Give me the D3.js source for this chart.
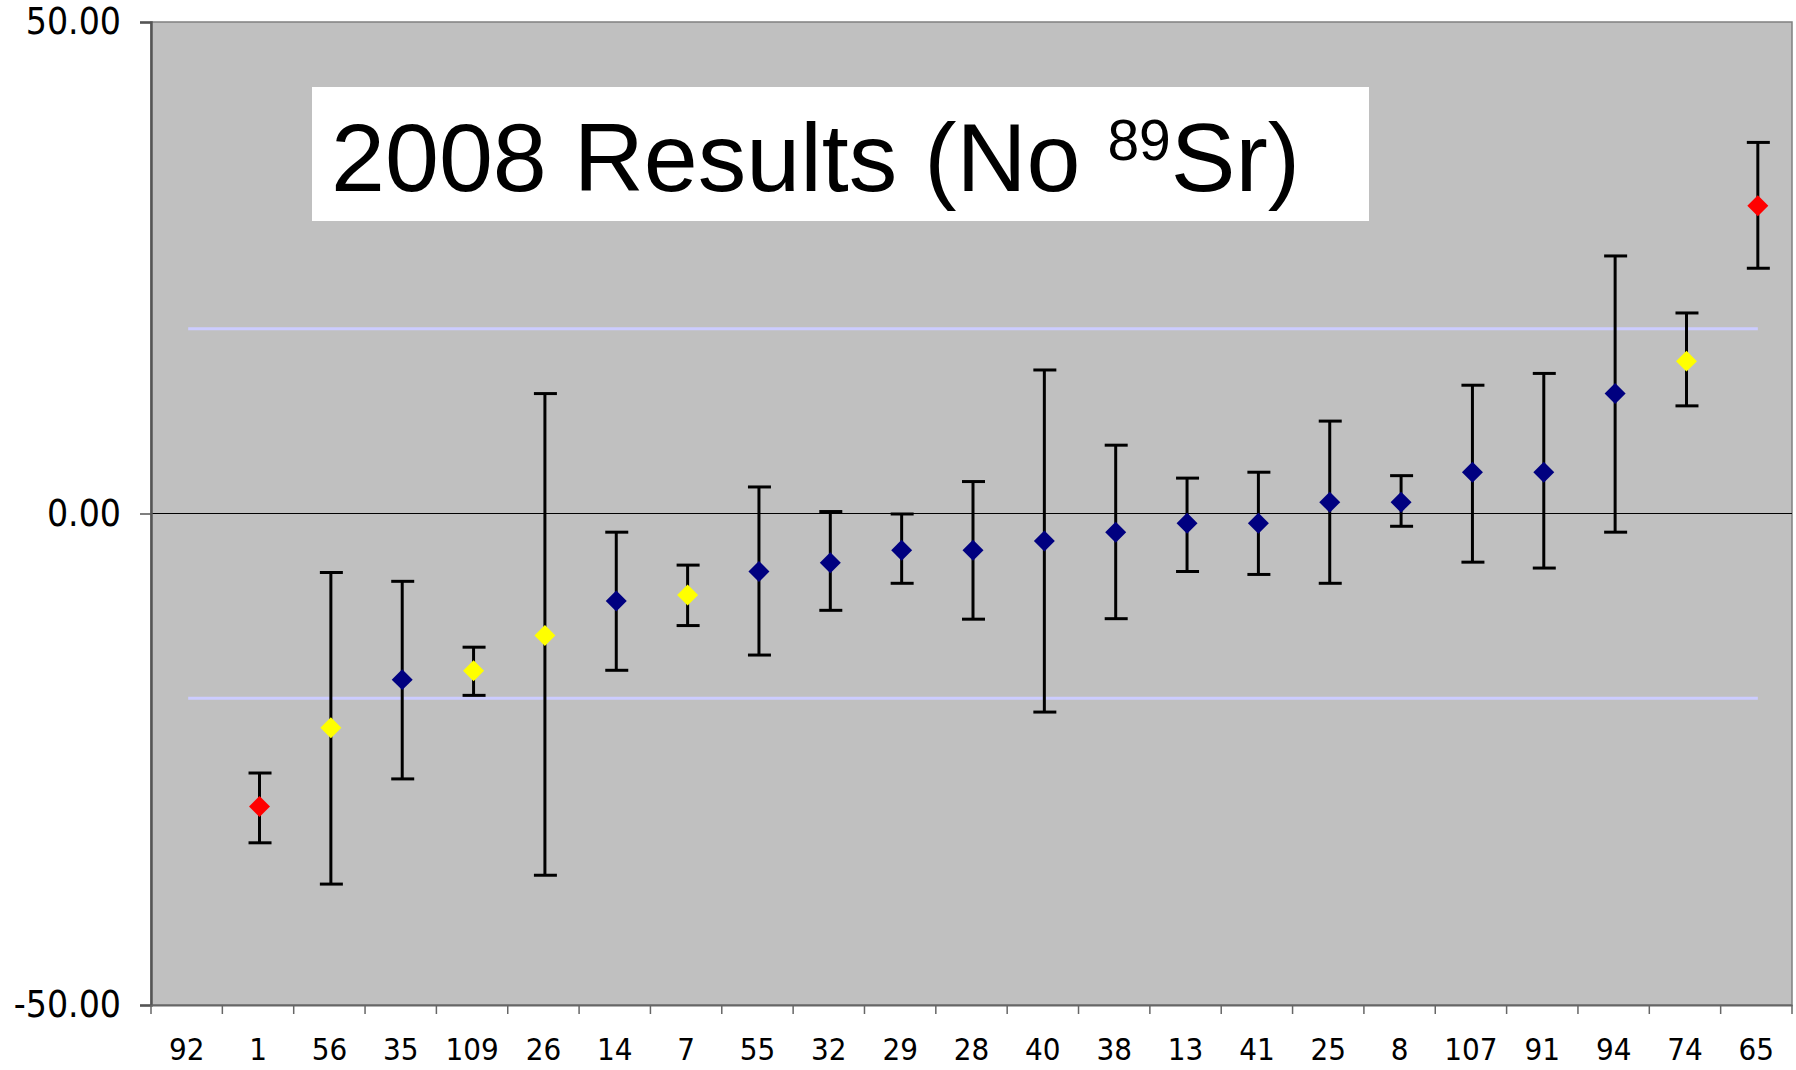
<!DOCTYPE html>
<html>
<head>
<meta charset="utf-8">
<script src="https://cdn.jsdelivr.net/npm/d3@7"></script>
<style>
  html, body { margin: 0; padding: 0; background: #ffffff; }
  svg { display: block; }
</style>
</head>
<body>
<svg id="chart" width="1796" height="1070"></svg>
<script>
// ---- data ----
const categories = ["92","1","56","35","109","26","14","7","55","32","29","28","40","38","13","41","25","8","107","91","94","74","65"];
const values     = [null,-29.8,-21.8,-16.9,-16.0,-12.4,-8.9,-8.3,-5.9,-5.0,-3.75,-3.75,-2.8,-1.9,-1.0,-1.0,1.15,1.15,4.2,4.2,12.2,15.5,31.3];
const errLow     = [null,-33.5,-37.7,-27.0,-18.5,-36.8,-15.95,-11.4,-14.4,-9.85,-7.1,-10.75,-20.2,-10.7,-5.9,-6.2,-7.1,-1.3,-4.95,-5.55,-1.9,10.95,24.95];
const errHigh    = [null,-26.4,-6.0,-6.9,-13.6,12.2,-1.9,-5.25,2.7,0.2,-0.05,3.25,14.6,6.95,3.6,4.2,9.4,3.85,13.05,14.25,26.2,20.4,37.75];
const status     = [null,"fail","warn","pass","warn","warn","pass","warn","pass","pass","pass","pass","pass","pass","pass","pass","pass","pass","pass","pass","pass","warn","fail"];
const limitHigh  = 18.8;
const limitLow   = -18.8;
const yTicks     = [-50, 0, 50];

// ---- layout ----
const svg = d3.select("#chart");
const plot = { left: 151, right: 1792, top: 22, bottom: 1005 };
const statusColor = { fail: "#ff0000", warn: "#ffff00", pass: "#000080" };

const x = d3.scaleBand().domain(categories).range([plot.left, plot.right]).paddingInner(0).paddingOuter(0);
const y = d3.scaleLinear().domain([-50, 50]).range([plot.bottom, plot.top]);
const cx = c => x(c) + x.bandwidth() / 2 + 1.5;

// plot background
svg.append("rect")
  .attr("x", plot.left).attr("y", plot.top)
  .attr("width", plot.right - plot.left).attr("height", plot.bottom - plot.top)
  .attr("fill", "#c0c0c0")
  .attr("stroke", "#808080").attr("stroke-width", 1.5);

// zero line
svg.append("line")
  .attr("x1", plot.left).attr("x2", plot.right)
  .attr("y1", y(0)).attr("y2", y(0))
  .attr("stroke", "#000").attr("stroke-width", 1.2);

// limit lines
[limitHigh, limitLow].forEach(v => {
  svg.append("line")
    .attr("x1", cx(categories[0])).attr("x2", cx(categories[categories.length - 1]))
    .attr("y1", y(v)).attr("y2", y(v))
    .attr("stroke", "#ccccff").attr("stroke-width", 3);
});

// title box
const tb = svg.append("g");
tb.append("rect")
  .attr("x", 312).attr("y", 87).attr("width", 1057).attr("height", 134)
  .attr("fill", "#ffffff");
const title = tb.append("text")
  .attr("x", 331).attr("y", 191)
  .attr("font-family", "'Liberation Sans', Arial, Helvetica, sans-serif")
  .attr("font-size", 97)
  .attr("fill", "#000");
title.append("tspan").text("2008 Results (No ");
title.append("tspan").attr("font-size", 57).attr("dy", -31).text("89");
title.append("tspan").attr("dy", 31).text("Sr)");

// y axis
const yAxis = svg.append("g")
  .attr("transform", `translate(${plot.left},0)`)
  .call(d3.axisLeft(y).tickValues(yTicks).tickFormat(d => d.toFixed(2)).tickSize(11).tickPadding(19));
yAxis.select(".domain").attr("stroke", "#555").attr("stroke-width", 2.5);
yAxis.selectAll(".tick line").attr("stroke", "#555").attr("stroke-width", 1.5);
yAxis.selectAll(".tick text")
  .attr("font-family", "'DejaVu Sans Condensed', 'DejaVu Sans', Verdana, sans-serif")
  .attr("font-size", 37).attr("fill", "#000");

// x axis
const xAxis = svg.append("g")
  .attr("transform", `translate(0,${plot.bottom})`)
  .call(d3.axisBottom(x).tickSize(0).tickPadding(33));
xAxis.select(".domain").attr("stroke", "#666").attr("stroke-width", 2);
xAxis.selectAll(".tick text")
  .attr("font-family", "'DejaVu Sans Condensed', 'DejaVu Sans', Verdana, sans-serif")
  .attr("font-size", 31).attr("fill", "#000");

// boundary ticks on x axis
const edges = categories.map(c => x(c)).concat([x(categories[categories.length - 1]) + x.bandwidth()]);
svg.append("g").selectAll("line").data(edges).join("line")
  .attr("x1", d => d).attr("x2", d => d)
  .attr("y1", plot.bottom).attr("y2", plot.bottom + 9)
  .attr("stroke", "#666").attr("stroke-width", 1.5);

// data
const data = categories.map((c, i) => ({ c, v: values[i], lo: errLow[i], hi: errHigh[i], s: status[i] }))
  .filter(d => d.v !== null);

const eb = svg.append("g").attr("stroke", "#000").attr("stroke-width", 3);
eb.selectAll("line.v").data(data).join("line").attr("class", "v")
  .attr("x1", d => cx(d.c)).attr("x2", d => cx(d.c))
  .attr("y1", d => y(d.lo)).attr("y2", d => y(d.hi));
eb.selectAll("line.capHi").data(data).join("line").attr("class", "capHi")
  .attr("x1", d => cx(d.c) - 11).attr("x2", d => cx(d.c) + 12)
  .attr("y1", d => y(d.hi)).attr("y2", d => y(d.hi));
eb.selectAll("line.capLo").data(data).join("line").attr("class", "capLo")
  .attr("x1", d => cx(d.c) - 11).attr("x2", d => cx(d.c) + 12)
  .attr("y1", d => y(d.lo)).attr("y2", d => y(d.lo));

const diamond = d3.symbol().type(d3.symbolSquare).size(220);
svg.append("g").selectAll("path").data(data).join("path")
  .attr("d", diamond)
  .attr("transform", d => `translate(${cx(d.c)},${y(d.v)}) rotate(45)`)
  .attr("fill", d => statusColor[d.s]);
</script>
</body>
</html>
